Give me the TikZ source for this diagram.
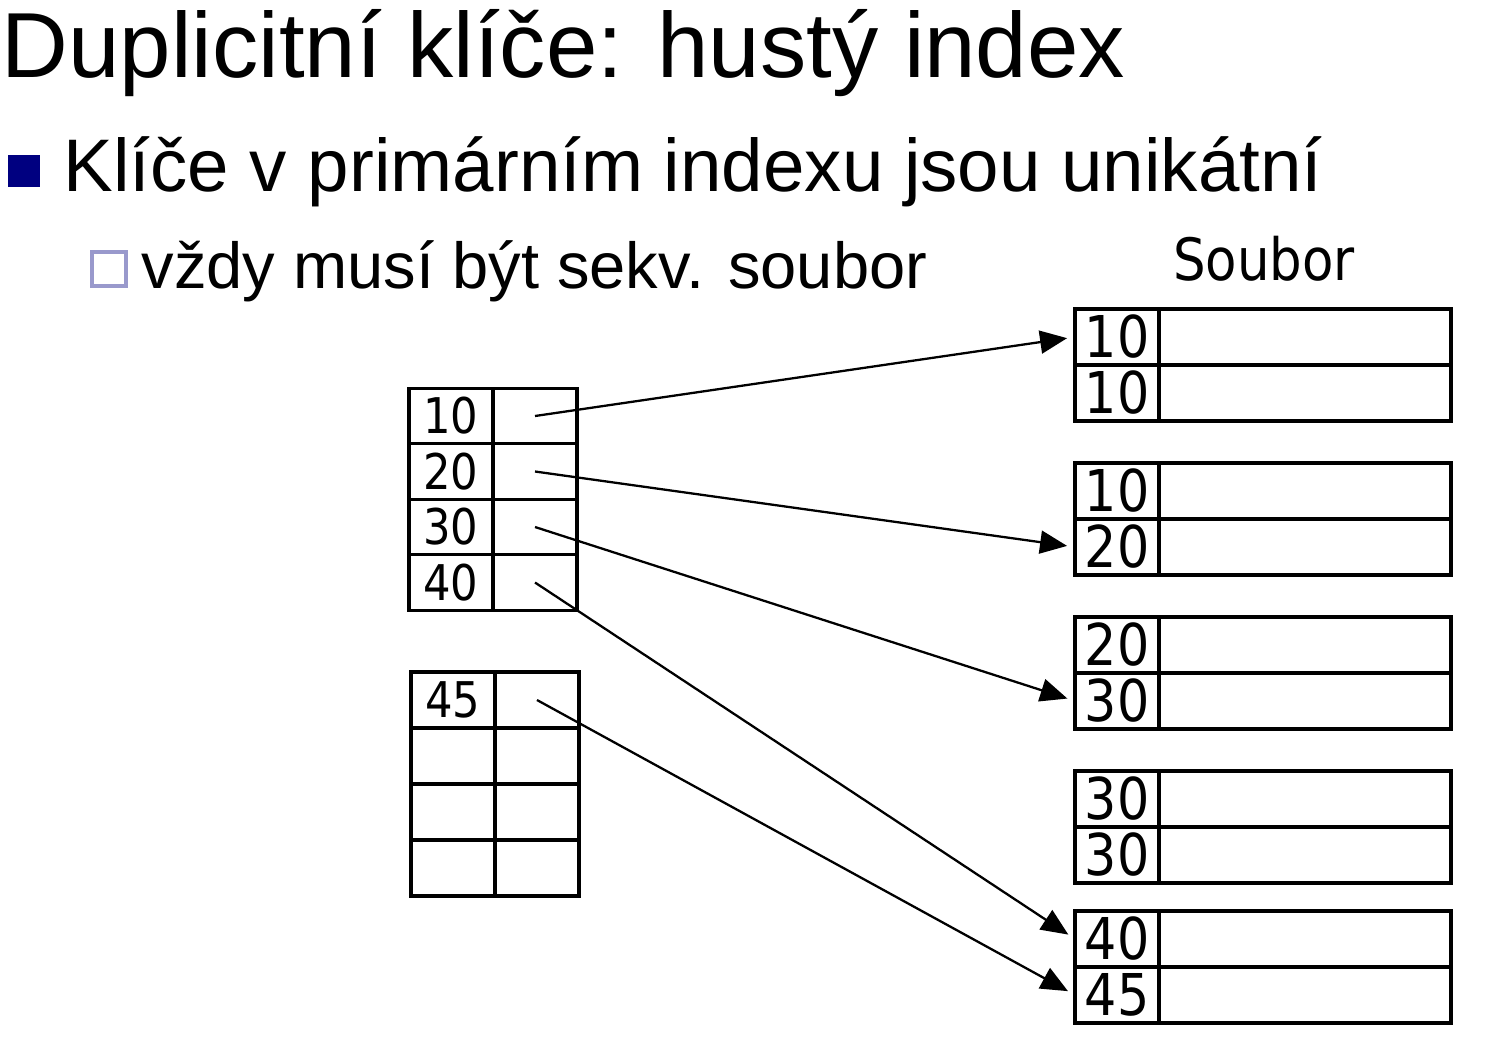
\documentclass[tikz,border=0pt]{standalone}
\usepackage{fontspec}
\setmainfont{Liberation Sans}
\newfontfamily\tahoma[FakeStretch=0.88]{DejaVu Sans}
\usetikzlibrary{positioning, arrows.meta}
\definecolor{navy}{HTML}{000080}
\definecolor{lavender}{HTML}{9999CC}

\tikzset{
    key/.style={draw, line width=0.9pt, inner sep=0pt, outer sep=0pt,
        minimum width=0.84cm, minimum height=0.555cm,
        font=\tahoma\fontsize{14}{14}\selectfont},
    ikey/.style={key, minimum height=0.56cm},
    fkey/.style={key, minimum height=0.56cm,
        font=\tahoma\fontsize{16.4}{16.4}\selectfont},
    fdata/.style={fkey, minimum width=2.92cm},
    link/.style={line width=0.65pt, -{Triangle[length=0.27cm, width=0.23cm]},
        shorten >=0.08cm},
}

\begin{document}
\begin{tikzpicture}
    \useasboundingbox (0,0) rectangle (14.96,-10.42);

    % slide texts
    \node[anchor=base west, inner sep=0pt, font=\fontsize{26.3}{26.3}\selectfont] (title) at (0.01,-0.77) {Duplicitní klíče: hustý index};
    \node[fill=navy, inner sep=0pt, minimum size=0.32cm] (b1) at (0.24,-1.71) {};
    \node[anchor=base west, inner sep=0pt, font=\fontsize{21.2}{21.2}\selectfont] (item1) at (0.63,-1.91) {Klíče v primárním indexu jsou unikátní};
    \node[draw=lavender, line width=1.14pt, inner sep=0pt, minimum size=0.34cm] (b2) at (1.09,-2.69) {};
    \node[anchor=base west, inner sep=0pt, font=\fontsize{18.5}{18.5}\selectfont] (item2) at (1.41,-2.88) {vždy musí být sekv. soubor};
    \node[anchor=base, inner sep=0pt, font=\tahoma\fontsize{16.6}{16.6}\selectfont] (file) at (12.64,-2.80) {Soubor};

    % index, first block
    \node[key] (ik1) at (4.51,-4.16) {10};
    \node[key, below=0pt of ik1] (ik2) {20};
    \node[key, below=0pt of ik2] (ik3) {30};
    \node[key, below=0pt of ik3] (ik4) {40};
    \node[key, right=0pt of ik1] (ip1) {};
    \node[key, right=0pt of ik2] (ip2) {};
    \node[key, right=0pt of ik3] (ip3) {};
    \node[key, right=0pt of ik4] (ip4) {};

    % index, second block
    \node[ikey] (jk1) at (4.53,-7.00) {45};
    \node[ikey, below=0pt of jk1] (jk2) {};
    \node[ikey, below=0pt of jk2] (jk3) {};
    \node[ikey, below=0pt of jk3] (jk4) {};
    \node[ikey, right=0pt of jk1] (jp1) {};
    \node[ikey, right=0pt of jk2] (jp2) {};
    \node[ikey, right=0pt of jk3] (jp3) {};
    \node[ikey, right=0pt of jk4] (jp4) {};

    % sequential file
    \node[fkey] (r1) at (11.17,-3.37) {10};
    \node[fkey, below=0pt of r1] (r2) {10};
    \node[fkey, below=0.42cm of r2] (r3) {10};
    \node[fkey, below=0pt of r3] (r4) {20};
    \node[fkey, below=0.42cm of r4] (r5) {20};
    \node[fkey, below=0pt of r5] (r6) {30};
    \node[fkey, below=0.42cm of r6] (r7) {30};
    \node[fkey, below=0pt of r7] (r8) {30};
    \node[fkey, below=0.28cm of r8] (r9) {40};
    \node[fkey, below=0pt of r9] (r10) {45};
    \node[fdata, right=0pt of r1] (d1) {};
    \node[fdata, right=0pt of r2] (d2) {};
    \node[fdata, right=0pt of r3] (d3) {};
    \node[fdata, right=0pt of r4] (d4) {};
    \node[fdata, right=0pt of r5] (d5) {};
    \node[fdata, right=0pt of r6] (d6) {};
    \node[fdata, right=0pt of r7] (d7) {};
    \node[fdata, right=0pt of r8] (d8) {};
    \node[fdata, right=0pt of r9] (d9) {};
    \node[fdata, right=0pt of r10] (d10) {};

    % pointers
    \draw[link] (ip1.center) -- (r1.west);
    \draw[link] (ip2.center) -- (r4.west);
    \draw[link] (ip3.center) -- (r6.west);
    \draw[link] (ip4.center) -- (r9.west);
    \draw[link] (jp1.center) -- (r10.west);
\end{tikzpicture}
\end{document}
